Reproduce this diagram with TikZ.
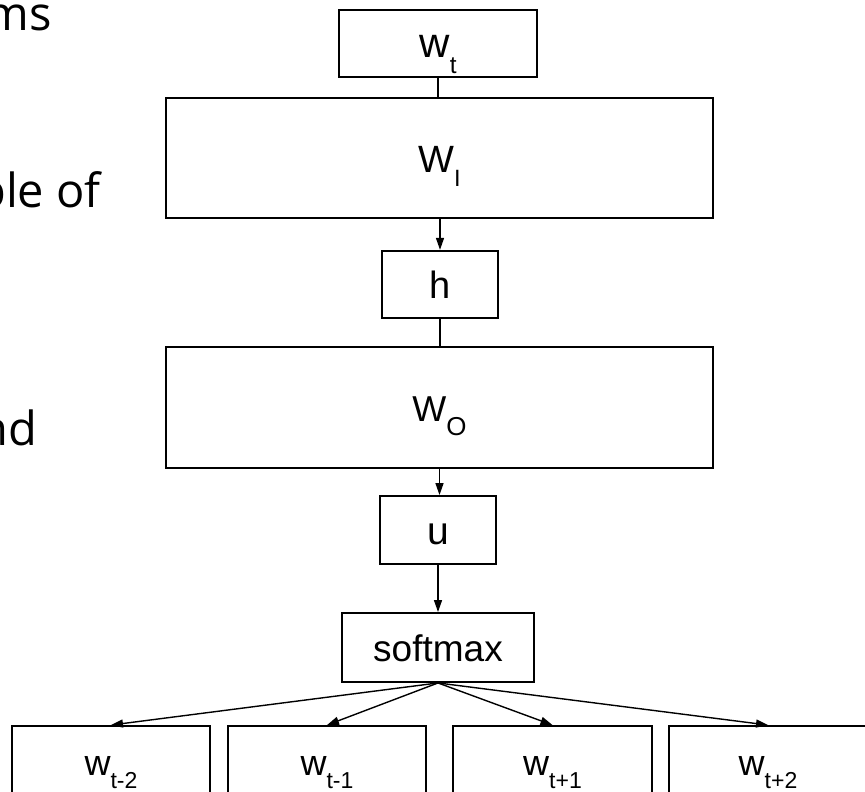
\documentclass[tikz,border=0pt]{standalone}
\usepackage{fontspec}
\setmainfont{Liberation Sans}
\newfontfamily\slidefont{Open Sans}
\usetikzlibrary{arrows.meta}
\newcommand\subidx[2][0.55]{\raisebox{-0.38em}{\scalebox{#1}{#2}}}

\begin{document}
\begin{tikzpicture}[x=1pt, y=-1pt,
    box/.style={draw, line width=1.9pt, inner sep=0pt, text height=28pt, text depth=0pt},
    slidetxt/.style={anchor=base east, inner sep=0pt, font={\slidefont\fontsize{47}{56}\selectfont}},
    link/.style={line width=1.4pt},
    flow/.style={line width=1.4pt, -{Triangle[length=12pt,width=8pt]}}]
    \useasboundingbox (0,0) rectangle (865,792);

    % Slide text cut off at the left edge
    \node[slidetxt] (txtA) at (52,31) {ms};
    \node[slidetxt] (txtB) at (101,207) {ble of};
    \node[slidetxt] (txtC) at (37,445) {nd};

    % Input word and input matrix
    \node[box, minimum width=198pt, minimum height=67pt, font=\fontsize{42}{42}\selectfont] (wt) at (438,43.5) {w\subidx[0.58]{t}};
    \node[box, minimum width=547pt, minimum height=120pt, font=\fontsize{38}{38}\selectfont] (WI) at (439.5,158) {W\subidx[0.62]{I}};

    % Hidden layer
    \node[box, minimum width=116pt, minimum height=67pt, font=\fontsize{38}{38}\selectfont] (h) at (440,284.3) {h};

    % Output matrix and scores
    \node[box, minimum width=547pt, minimum height=121pt, font=\fontsize{36}{36}\selectfont] (WO) at (439.5,407.5) {W\subidx[0.72]{O}};
    \node[box, minimum width=116pt, minimum height=68pt, font=\fontsize{39}{39}\selectfont] (u) at (438,530) {u};
    \node[box, minimum width=192pt, minimum height=69pt, font=\fontsize{37}{37}\selectfont] (soft) at (438,647.5) {softmax};

    % Context words
    \node[box, minimum width=198pt, minimum height=70pt, font=\fontsize{36}{36}\selectfont] (wtm2) at (111,761) {w\subidx[0.64]{t-2}};
    \node[box, minimum width=198pt, minimum height=70pt, font=\fontsize{36}{36}\selectfont] (wtm1) at (327,761) {w\subidx[0.64]{t-1}};
    \node[box, minimum width=199pt, minimum height=70pt, font=\fontsize{36}{36}\selectfont] (wtp1) at (552.5,761) {w\subidx[0.64]{t+1}};
    \node[box, minimum width=198pt, minimum height=70pt, font=\fontsize{36}{36}\selectfont] (wtp2) at (768,761) {w\subidx[0.64]{t+2}};

    % Connections
    \draw[link] (wt.south) -- (wt.south |- WI.north);
    \draw[flow] (h.north |- WI.south) -- (h.north);
    \draw[link] (h.south) -- (h.south |- WO.north);
    \draw[flow] (WO.south) -- (WO.south |- u.north);
    \draw[flow] (u.south) -- (soft.north);
    \draw[flow] (soft.south) -- (wtm2.north);
    \draw[flow] (soft.south) -- (wtm1.north);
    \draw[flow] (soft.south) -- (wtp1.north);
    \draw[flow] (soft.south) -- (wtp2.north);
\end{tikzpicture}
\end{document}
